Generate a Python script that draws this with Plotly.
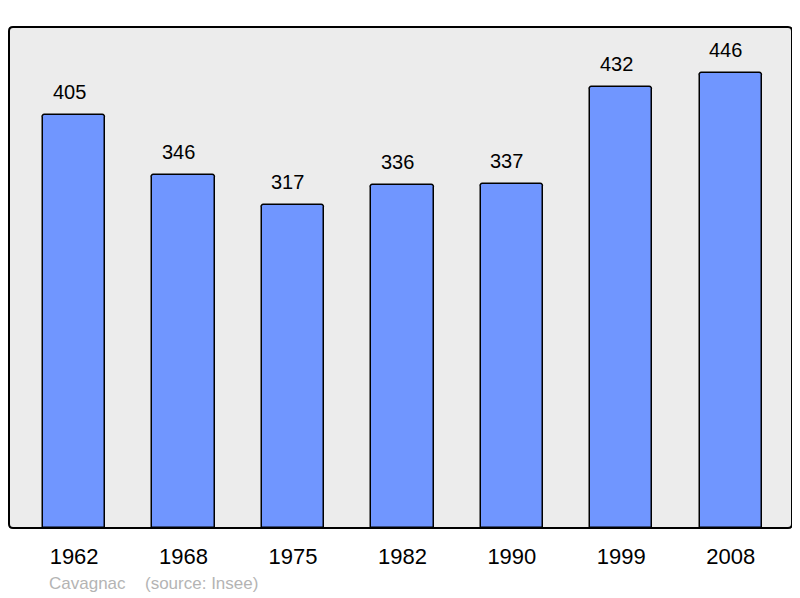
import plotly.graph_objects as go

years = ["1962", "1968", "1975", "1982", "1990", "1999", "2008"]
population = [405, 346, 317, 336, 337, 432, 446]
commune = "Cavagnac"
source = "(source: Insee)"

# the page body adds an 8px offset; size the figure to fit the 800x598 window
OFF = 8
W, H = 800 - OFF, 598 - OFF
L, R, T, B = 9 - OFF, 8, 27 - OFF, 70
PW, PH = W - L - R, H - T - B
FONT = "Liberation Sans, Arial, sans-serif"

xpos = list(range(len(years)))

fig = go.Figure()
fig.add_trace(go.Bar(
    x=xpos, y=population, width=0.57,
    marker=dict(color="#7096ff", line=dict(color="#000000", width=1.5), cornerradius=3),
    hoverinfo="skip",
))

for xi, v in zip(xpos, population):
    fig.add_annotation(x=xi, y=v, text=str(v), showarrow=False, yanchor="middle",
                       yshift=23, xshift=-5, font=dict(family=FONT, size=20, color="#000"))

fy = (H - B - (583 - OFF)) / PH
fig.add_annotation(xref="paper", yref="paper", x=(47 - OFF - L) / PW, y=fy,
                   text=commune, showarrow=False, xanchor="left", yanchor="middle",
                   font=dict(family=FONT, size=17, color="#b4b4b4"))
fig.add_annotation(xref="paper", yref="paper", x=(143 - OFF - L) / PW, y=fy,
                   text=source, showarrow=False, xanchor="left", yanchor="middle",
                   font=dict(family=FONT, size=17, color="#b4b4b4"))

# rounded frame around plotting area
rx, ry = 4 / PW, 4 / PH
path = (f"M {rx},0 L {1-rx},0 Q 1,0 1,{ry} L 1,{1-ry} Q 1,1 {1-rx},1 "
        f"L {rx},1 Q 0,1 0,{1-ry} L 0,{ry} Q 0,0 {rx},0 Z")
fig.add_shape(type="path", xref="paper", yref="paper", path=path,
              line=dict(color="#000", width=2), layer="above")

fig.update_layout(
    width=W, height=H,
    margin=dict(l=L, r=R, t=T, b=B),
    paper_bgcolor="#ffffff",
    plot_bgcolor="#ececec",
    showlegend=False,
    bargap=0,
    xaxis=dict(range=[-0.595, 6.56], tickmode="array", tickvals=xpos, ticktext=years,
               showgrid=False, zeroline=False, ticks="outside", ticklen=9,
               tickcolor="rgba(0,0,0,0)",
               tickfont=dict(family=FONT, size=22, color="#000")),
    yaxis=dict(range=[0, 491], showgrid=False, zeroline=False, showticklabels=False, ticks=""),
)

fig.write_html("out.html")
